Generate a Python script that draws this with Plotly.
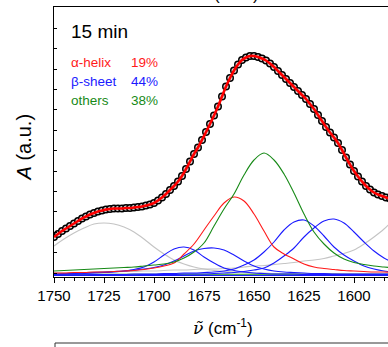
import plotly.graph_objects as go

# ---------------- data ----------------
# measured spectrum / fit (wavenumber in cm^-1, absorbance in arbitrary units)
wn_data = list(range(1750, 1581, -2))
absorb = [42, 45, 48, 50.5, 53, 55.5, 58, 60.5, 62.5, 64.5,
          66, 67.5, 68.5, 69.5, 70, 70.5, 70.5, 70.5, 71, 71,
          71.5, 72, 72.5, 73.5, 74.5, 76, 78.5, 81.5, 85, 89,
          93, 97.5, 103, 110, 117.5, 125, 131.5, 139, 147, 155,
          163.5, 172.5, 182.5, 192.5, 201, 208.5, 214.5, 219, 221.5, 223,
          223, 222, 220.5, 218.5, 215.5, 212, 208, 204, 200, 196,
          192, 188, 184, 180, 175, 170, 164, 158, 152, 146.5,
          141.5, 136, 129, 121.5, 114.5, 108, 102.5, 97.5, 93, 89.5,
          86.5, 84.5, 83, 81.5, 80.5]

# fitted component bands sampled every 5 cm^-1
wn_comp = list(range(1750, 1579, -5))
alpha_helix = [6, 6, 6.5, 6.5, 7, 7, 7.5, 8, 8.5, 9.5,
               11, 13, 16, 25, 35, 49, 63, 76, 82, 78,
               65, 48, 32, 25, 20, 15, 12, 10.5, 9.5, 8.5,
               8, 7.5, 7, 7, 6.5]
beta_1 = [4.5, 5, 5, 5.5, 6, 6.5, 7, 8, 9.5, 12,
          17, 24, 30, 32, 29, 22, 16, 11, 8.5, 7,
          6, 5.5, 5, 5, 5, 4.5, 4.5, 4.5, 4.5, 4.5,
          4.5, 4.5, 4.5, 4.5, 4.5]
beta_2 = [5, 5.5, 5.5, 6, 6.5, 7, 7.5, 8, 9, 10,
          11.5, 14, 18, 23, 28, 30.5, 31, 29, 24, 18,
          13, 10, 8, 7, 6.5, 6, 5.5, 5.5, 5, 5,
          5, 5, 5, 5, 5]
beta_3 = [4, 4, 4, 4, 4.5, 4.5, 4.5, 4.5, 5, 5,
          5, 5.5, 5.5, 6, 6, 6.5, 7, 8, 10, 14,
          19, 27, 37, 49, 57, 59, 53, 43, 32, 24,
          18, 13, 10, 8, 7]
beta_4 = [4, 4, 4, 4, 4, 4, 4, 4, 4, 4.5,
          4.5, 4.5, 4.5, 5, 5, 5, 5.5, 6, 6.5, 7.5,
          9, 11, 16, 23, 31, 42, 51, 58, 60, 56,
          47, 37, 28, 21, 16]
beta_base = [3.5] * 35
others_1 = [8, 8.5, 9, 9.5, 10, 10.5, 11, 11.5, 12, 13,
            14, 15, 17, 21, 27, 36, 53, 70, 85, 104,
            119, 126, 119, 105, 86, 65, 47, 35, 26, 20,
            16.5, 14.5, 13, 12, 11]
others_base = [4.8] * 35
side_1 = [33, 40, 46, 51, 55, 56, 55, 52, 47, 40,
          32, 25, 19, 15, 12, 10, 8.5, 7.5, 7, 6.5,
          6, 6, 5.5, 5.5, 5.5, 5.5, 5.5, 5.5, 5.5, 5,
          5, 5, 5, 5, 5]
side_2 = [6, 6, 6.5, 6.5, 7, 7, 7, 7.5, 7.5, 8,
          8, 8.5, 9, 9, 9.5, 10, 10, 10.5, 11, 12,
          13, 13.5, 14.5, 15.5, 16.5, 18, 19, 20.5, 23, 25.5,
          29, 35, 42, 50, 60]

x_ticks = [1750, 1725, 1700, 1675, 1650, 1625, 1600]
labels = [("α-helix", "19%", "#ff1a1a"),
          ("β-sheet", "44%", "#1a1aff"),
          ("others", "38%", "#178a17")]

# ---------------- figure ----------------
W, H = 388, 347
L, R, T, B = 54, 0, 7, 70
PW, PH = W - L - R, H - T - B
bottom_px = H - B


def px(x):
    return (x - L) / PW


def py(y):
    return (bottom_px - y) / PH


RED, BLUE, GREEN, GRAY = "#ff1a1a", "#1a1aff", "#178a17", "#c4c4c4"
FONT = "Liberation Sans, Arial, sans-serif"

fig = go.Figure()


def comp(y, color, width=1.1):
    fig.add_trace(go.Scatter(x=wn_comp, y=y, mode="lines", line_shape="spline",
                             line=dict(color=color, width=width), hoverinfo="skip"))


comp(side_1, GRAY)
comp(side_2, GRAY)
comp(beta_base, BLUE)
comp(others_base, GREEN)
comp(beta_1, BLUE)
comp(beta_2, BLUE)
comp(beta_3, BLUE)
comp(beta_4, BLUE)
comp(alpha_helix, RED)
comp(others_1, GREEN)

fig.add_trace(go.Scatter(x=wn_data, y=absorb, mode="markers",
                         marker=dict(symbol="circle", size=6.5, color="#d9d9d9",
                                     line=dict(color="black", width=1.5))))
fig.add_trace(go.Scatter(x=wn_data, y=absorb, mode="lines", line_shape="spline",
                         line=dict(color="#ff0000", width=2.6)))

fig.update_xaxes(range=[1750, 1583], showline=True, linecolor="black", linewidth=1,
                 mirror=True, ticks="outside", ticklen=5, tickwidth=1, tickcolor="black",
                 tickvals=x_ticks, ticktext=[str(v) for v in x_ticks],
                 minor=dict(ticks="outside", ticklen=3, tickwidth=1, tickcolor="black",
                            dtick=5, tick0=1750),
                 tickfont=dict(family=FONT, size=15, color="black"),
                 showgrid=False, zeroline=False, automargin=False)
fig.update_yaxes(range=[2, 272], showline=True, linecolor="black", linewidth=1,
                 ticks="inside", ticklen=3, tickwidth=1, tickcolor="black",
                 tick0=6, dtick=20.4, showticklabels=False,
                 showgrid=False, zeroline=False, automargin=False)

ann = []
ann.append(dict(text="15 min", x=px(69), y=py(32), xanchor="left", yanchor="middle",
                font=dict(family=FONT, size=19, color="black")))
for i, (name, pct, col) in enumerate(labels):
    yy = py(62 + 19.5 * i)
    ann.append(dict(text=name, x=px(69), y=yy, xanchor="left", yanchor="middle",
                    font=dict(family=FONT, size=13.5, color=col)))
    ann.append(dict(text=pct, x=px(160), y=yy, xanchor="right", yanchor="middle",
                    font=dict(family=FONT, size=13.5, color=col)))
xtitle = ("<span style=\"font-family:'DejaVu Serif'\"><i>ν\u0303</i></span>"
          " (cm<sup>-1</sup>)")
ann.append(dict(text=xtitle, x=px(223), y=py(327), xanchor="center", yanchor="middle",
                font=dict(family=FONT, size=17, color="black")))
ann.append(dict(text=xtitle, x=px(229), y=py(-7), xanchor="center", yanchor="middle",
                font=dict(family=FONT, size=17, color="black")))
ann.append(dict(text="<i>A</i> (a.u.)", x=px(23), y=py(147.5), xanchor="center",
                yanchor="middle", textangle=-90,
                font=dict(family=FONT, size=20, color="black")))
for a in ann:
    a.update(xref="paper", yref="paper", showarrow=False)

shapes = [
    dict(type="line", xref="paper", yref="paper", x0=px(55), x1=1.02,
         y0=py(343), y1=py(343), line=dict(color="#333333", width=1)),
    dict(type="line", xref="paper", yref="paper", x0=px(55), x1=px(55),
         y0=py(343), y1=py(352), line=dict(color="#333333", width=1)),
]

fig.update_layout(width=W, height=H, margin=dict(l=L, r=R, t=T, b=B, autoexpand=False),
                  paper_bgcolor="white", plot_bgcolor="white",
                  showlegend=False, annotations=ann, shapes=shapes)

fig.write_html("out.html")
